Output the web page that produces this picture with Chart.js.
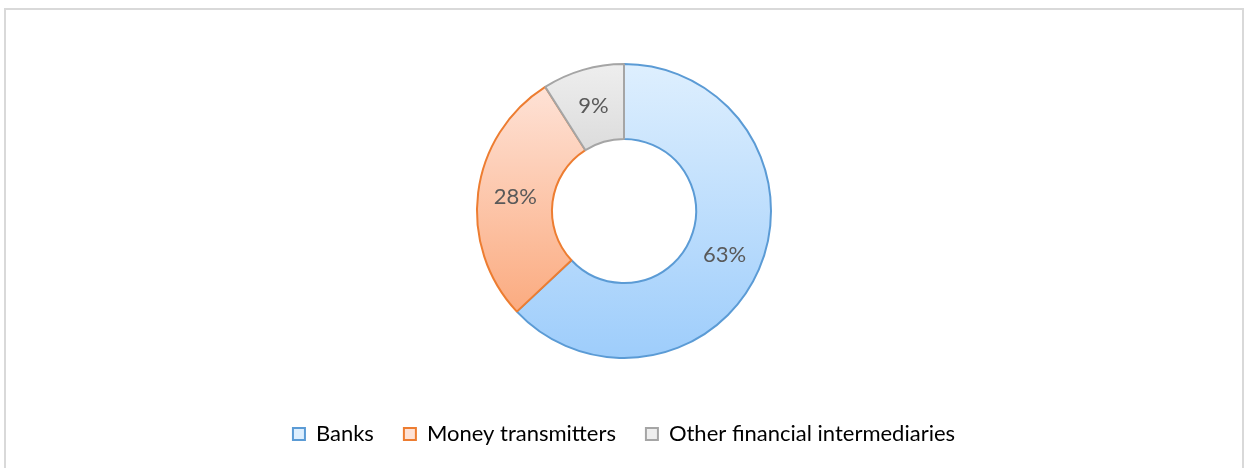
<!DOCTYPE html>
<html>
<head>
<meta charset="utf-8">
<script src="https://cdn.jsdelivr.net/npm/chart.js@4"></script>
<style>
  body { margin: 0; background: #fff; }
  #frame {
    position: absolute; left: 4px; top: 8px; width: 1236px; height: 470px;
    border: 2px solid #d9d9d9; border-bottom: none; background: #fff;
  }
  #wrap { position: absolute; left: 0; top: 0; width: 1236px; height: 458px; }
</style>
</head>
<body>
<div id="frame"><div id="wrap"><canvas id="myChart"></canvas></div></div>
<script>
const labels = ["Banks", "Money transmitters", "Other financial intermediaries"];
const shares = [63, 28, 9];

const borderColors = ["#5b9bd5", "#ed7d31", "#a5a5a5"];
const topColors = ["#deeffe", "#fee2d6", "#eeeeee"];
const bottomColors = ["#9ecdfb", "#fbab80", "#dcdcdc"];

// per-slice vertical gradient, Excel style
const sliceGradient = {
  id: "sliceGradient",
  beforeDatasetsDraw(chart) {
    const c = chart.ctx;
    chart.getDatasetMeta(0).data.forEach((arc, i) => {
      const p = arc.getProps(["x", "y", "startAngle", "endAngle", "outerRadius", "innerRadius"], true);
      const ys = [];
      const angs = [p.startAngle, p.endAngle];
      for (let a = -Math.PI * 2.5; a <= Math.PI * 2.5; a += Math.PI / 2) {
        if (a > p.startAngle && a < p.endAngle) angs.push(a);
      }
      angs.forEach(a => {
        ys.push(p.y + Math.sin(a) * p.outerRadius);
        ys.push(p.y + Math.sin(a) * p.innerRadius);
      });
      const g = c.createLinearGradient(0, Math.min(...ys), 0, Math.max(...ys));
      g.addColorStop(0, topColors[i]);
      g.addColorStop(1, bottomColors[i]);
      arc.options.backgroundColor = g;
    });
  }
};

const sliceLabels = {
  id: "sliceLabels",
  afterDatasetsDraw(chart) {
    const c = chart.ctx;
    c.save();
    c.font = "22px Lato";
    c.fillStyle = "#595959";
    c.textAlign = "center";
    c.textBaseline = "middle";
    chart.getDatasetMeta(0).data.forEach((arc, i) => {
      const pos = arc.tooltipPosition();
      c.fillText(shares[i] + "%", pos.x, pos.y);
    });
    c.restore();
  }
};

const ctx = document.getElementById("myChart").getContext("2d");

new Chart(ctx, {
  type: "doughnut",
  data: {
    labels: labels,
    datasets: [
      {
        data: shares,
        backgroundColor: topColors,
        borderColor: borderColors,
        borderWidth: 2,
      },
    ],
  },
  options: {
    responsive: true,
    maintainAspectRatio: false,
    animation: false,
    radius: 147,
    cutout: "49%",
    layout: { padding: { top: 19, bottom: 13 } },
    plugins: {
      tooltip: { enabled: false },
      legend: {
        display: true,
        position: "bottom",
        labels: {
          boxWidth: 12,
          boxHeight: 12,
          padding: 30,
          color: "#595959",
          font: { family: "Lato", size: 22 },
          generateLabels(chart) {
            return labels.map((l, i) => ({
              text: l,
              fillStyle: topColors[i],
              strokeStyle: borderColors[i],
              lineWidth: 2,
              hidden: false,
              index: i,
            }));
          },
        },
      },
    },
  },
  plugins: [sliceGradient, sliceLabels],
});
</script>
</body>
</html>
